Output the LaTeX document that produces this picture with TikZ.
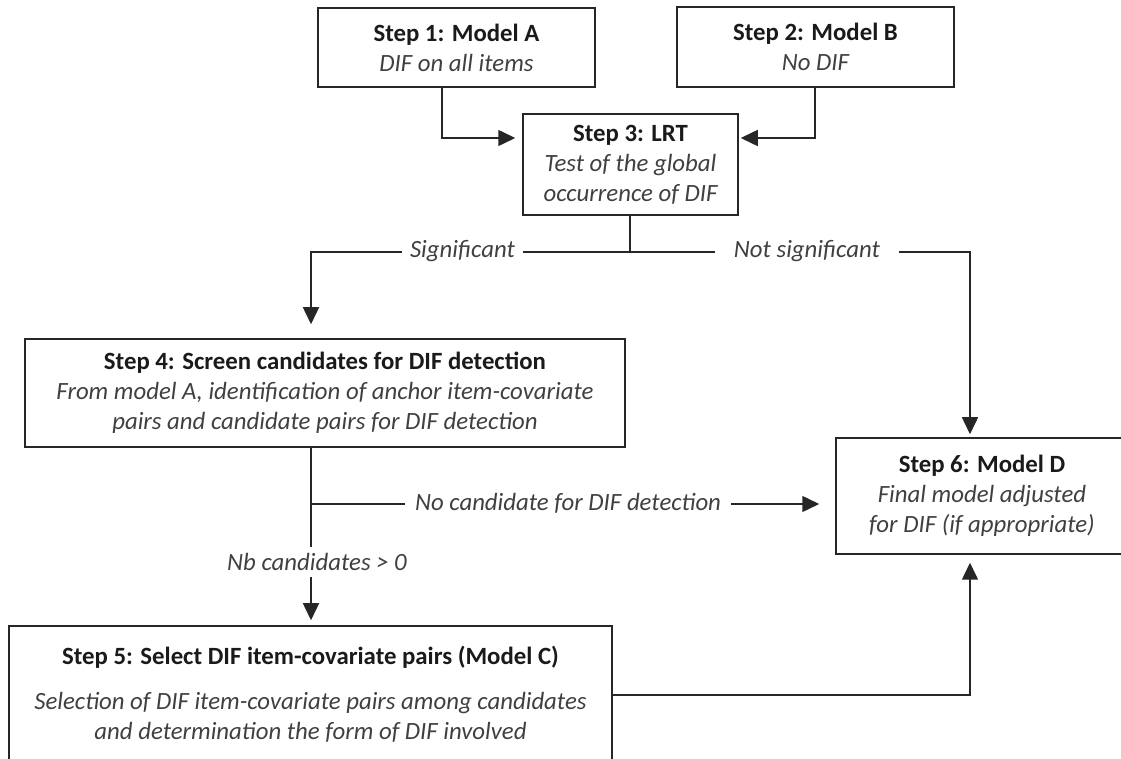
\documentclass[tikz,border=0pt]{standalone}
\usepackage{fontspec}
\setmainfont{Carlito}
\usetikzlibrary{arrows.meta}
\definecolor{linecol}{HTML}{262626}
\definecolor{titlecol}{HTML}{1A1A1A}
\definecolor{bodycol}{HTML}{404040}
\newcommand{\steptitle}[1]{\textbf{\textcolor{titlecol}{#1}}}
\newcommand{\stepbody}[1]{\textit{\textcolor{bodycol}{#1}}}
\begin{document}
\begin{tikzpicture}[x=0.5pt,y=-0.5pt,
  box/.style={draw=linecol, line width=0.75pt, fill=white, inner sep=0pt, align=center,
    font=\fontsize{12.4pt}{15pt}\selectfont},
  lbl/.style={fill=white, inner xsep=4pt, inner ysep=2pt, text=bodycol,
    font=\fontsize{12.4pt}{15pt}\selectfont\itshape},
  conn/.style={draw=linecol, line width=0.75pt},
  arr/.style={conn, -{Triangle[length=8.5pt,width=8pt]}}]
\useasboundingbox (0,0) rectangle (1121,759);
\fill[white] (0,0) rectangle (1121,759);
\begin{scope}
\clip (0,0) rectangle (1121,759);
% boxes
\node[box, minimum width=138.5pt, minimum height=39.5pt] (s1) at (456.5,47.5)
  {\steptitle{Step 1: Model A}\\\stepbody{DIF on all items}};
\node[box, minimum width=138.5pt, minimum height=40pt] (s2) at (815.5,47)
  {\steptitle{Step 2: Model B}\\\stepbody{No DIF}};
\node[box, minimum width=107.5pt, minimum height=50.5pt] (s3) at (630.5,164.5)
  {\steptitle{Step 3: LRT}\\\stepbody{Test of the global}\\\stepbody{occurrence of DIF}};
\node[box, minimum width=300pt, minimum height=54pt] (s4) at (325,393)
  {\steptitle{Step 4: Screen candidates for DIF detection}\\
   \stepbody{From model A, identification of anchor item-covariate}\\
   \stepbody{pairs and candidate pairs for DIF detection}};
\node[box, minimum width=301.5pt, minimum height=68pt] (s5) at (310.5,694)
  {\steptitle{Step 5: Select DIF item-covariate pairs (Model C)}\\[7.5pt]
   \stepbody{Selection of DIF item-covariate pairs among candidates}\\
   \stepbody{and determination the form of DIF involved}};
\node[box, minimum width=146pt, minimum height=58pt] (s6) at (982,496)
  {\steptitle{Step 6: Model D}\\\stepbody{Final model adjusted}\\\stepbody{for DIF (if appropriate)}};
% labels
\node[lbl, inner xsep=4pt] (sig) at (462.5,251) {Significant};
\node[lbl, inner xsep=9.5pt] (nsig) at (807,251) {Not significant};
\node[lbl, inner xsep=5pt] (nocand) at (568,503) {No candidate for DIF detection};
\node[lbl, inner ysep=3pt] (nb) at (317,562) {Nb candidates > 0};
% connectors
\coordinate (c1) at (442,138);
\coordinate (c2) at (815,138);
\draw[arr, shorten >=3.5pt] (s1.south -| c1) -- (c1) -- (s3.west |- c1);
\draw[arr, shorten >=1pt] (s2.south -| c2) -- (c2) -- (s3.east |- c2);
\coordinate (j) at (630,252);
\draw[conn] (s3.south -| j) -- (j);
\draw[conn] (j) -- (sig.east |- j);
\coordinate (a4) at (311,252);
\draw[arr, shorten >=7pt] (sig.west |- a4) -- (a4) -- (a4 |- s4.north);
\draw[conn] (j) -- (nsig.west |- j);
\coordinate (a6) at (970,252);
\draw[arr, shorten >=1.5pt] (nsig.east |- a6) -- (a6) -- (a6 |- s6.north);
\coordinate (b4) at (311,504);
\draw[conn] (s4.south -| b4) -- (b4 |- nb.north);
\draw[arr, shorten >=2.5pt] (b4 |- nb.south) -- (b4 |- s5.north);
\draw[conn] (b4) -- (nocand.west |- b4);
\draw[arr, shorten >=8pt] (nocand.east |- b4) -- (s6.west |- b4);
\coordinate (c6) at (970,695);
\draw[arr, shorten >=4pt] (s5.east |- c6) -- (c6) -- (c6 |- s6.south);
\end{scope}
\end{tikzpicture}
\end{document}
